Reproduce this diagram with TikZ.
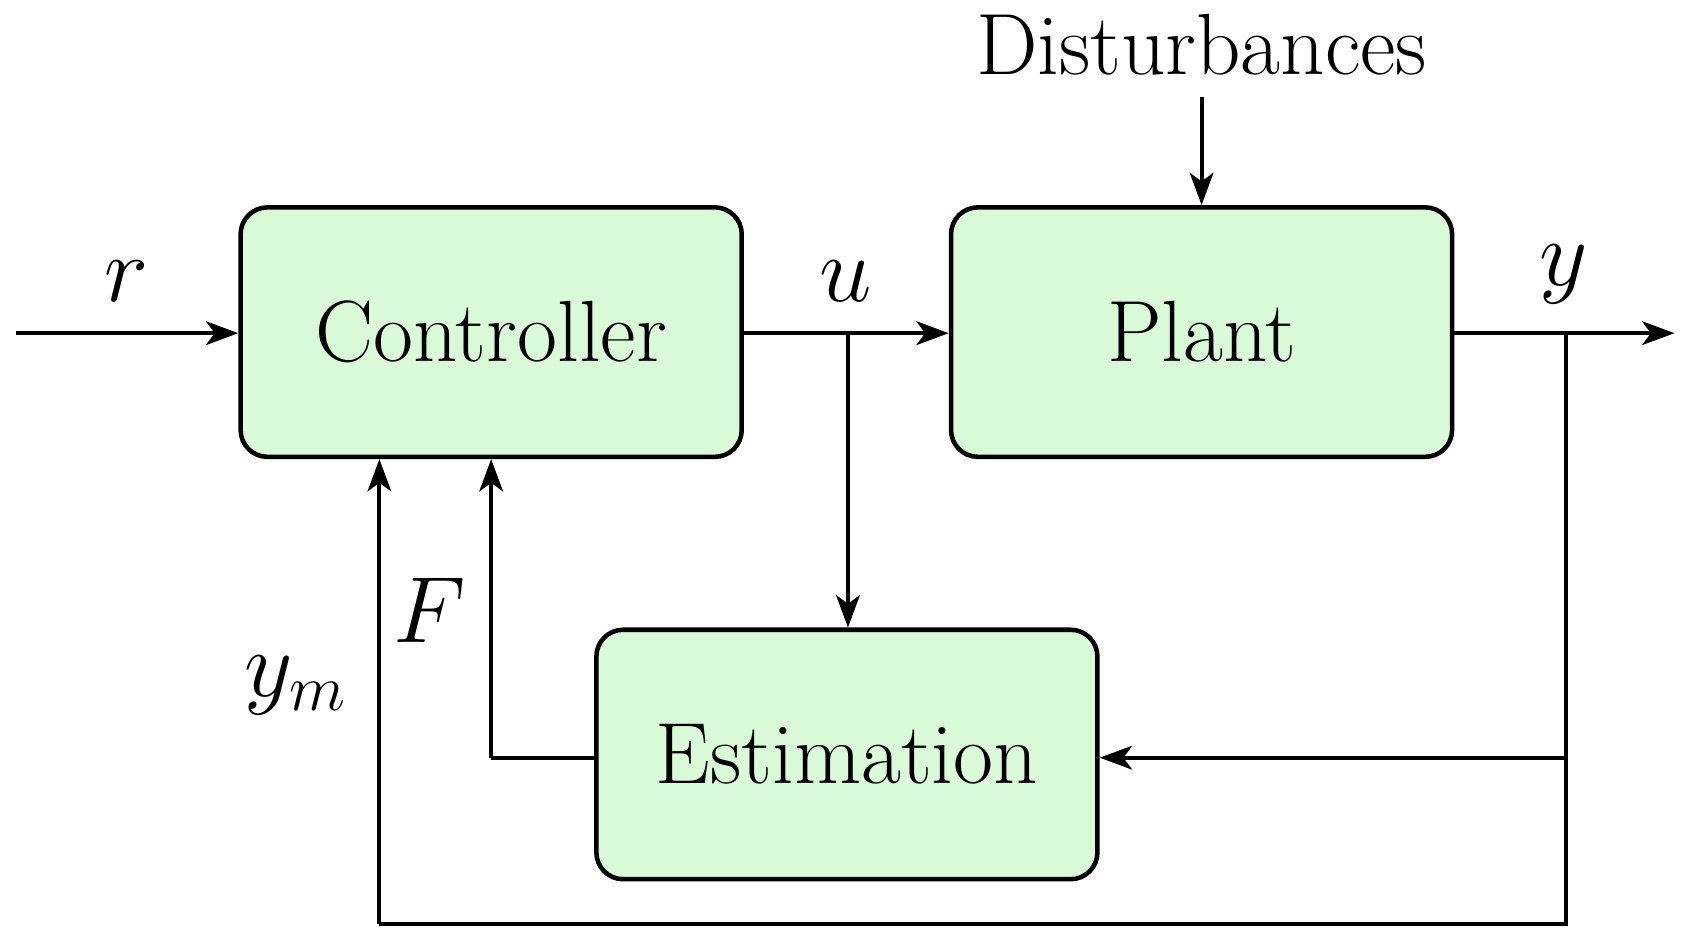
\documentclass[tikz,border=0pt]{standalone}
\usetikzlibrary{arrows.meta}
\definecolor{boxg}{HTML}{D9FAD6}
\begin{document}
\begin{tikzpicture}[x=0.01cm,y=-0.01cm,
  blk/.style={draw,line width=1.2pt,fill=boxg,rounded corners=0.25cm,minimum width=4.66cm,minimum height=2.32cm,font=\fontsize{23}{27}\selectfont},
  lbl/.style={font=\fontsize{23}{27}\selectfont},
  con/.style={line width=1.1pt,-{Stealth[length=0.3cm,width=0.22cm,inset=0.08cm]}},
  ln/.style={line width=1.1pt}]
\useasboundingbox (0,0) rectangle (1565,873);
\node[blk] (ctrl) at (457,309) {Controller};
\node[blk] (plant) at (1118,309) {Plant};
\node[blk] (est) at (788,702) {Estimation};
\node[lbl] (dist) at (1118,42) {Disturbances};
\coordinate (in) at (15,310);
\coordinate (out) at (1558,310);
\coordinate (ub) at (789,310);
\coordinate (yb) at (1457,310);
\coordinate (ye) at (1457,705);
\coordinate (yl) at (1457,860);
\coordinate (ll) at (353,860);
\coordinate (fl) at (457,705);
\draw[con] (in) -- (ctrl.west |- in);
\draw[con] (ctrl.east |- ub) -- (plant.west |- ub);
\draw[con] (plant.east |- yb) -- (out);
\draw[con] (dist.south |- 0,90) -- (plant.north);
\draw[con] (ub) -- (est.north -| ub);
\draw[ln] (yb) -- (yl) -- (ll);
\draw[con] (ll) -- (ll |- ctrl.south);
\draw[con] (ye) -- (est.east |- ye);
\draw[ln] (est.west |- fl) -- (fl);
\draw[con] (fl) -- (fl |- ctrl.south);
\node[lbl] at (118,262) {$r$};
\node[lbl] at (787,262) {$u$};
\node[lbl] at (1455,255) {$y$};
\node[lbl] at (400,568) {$F$};
\node[lbl] at (275,638) {$y_m$};
\end{tikzpicture}
\end{document}
